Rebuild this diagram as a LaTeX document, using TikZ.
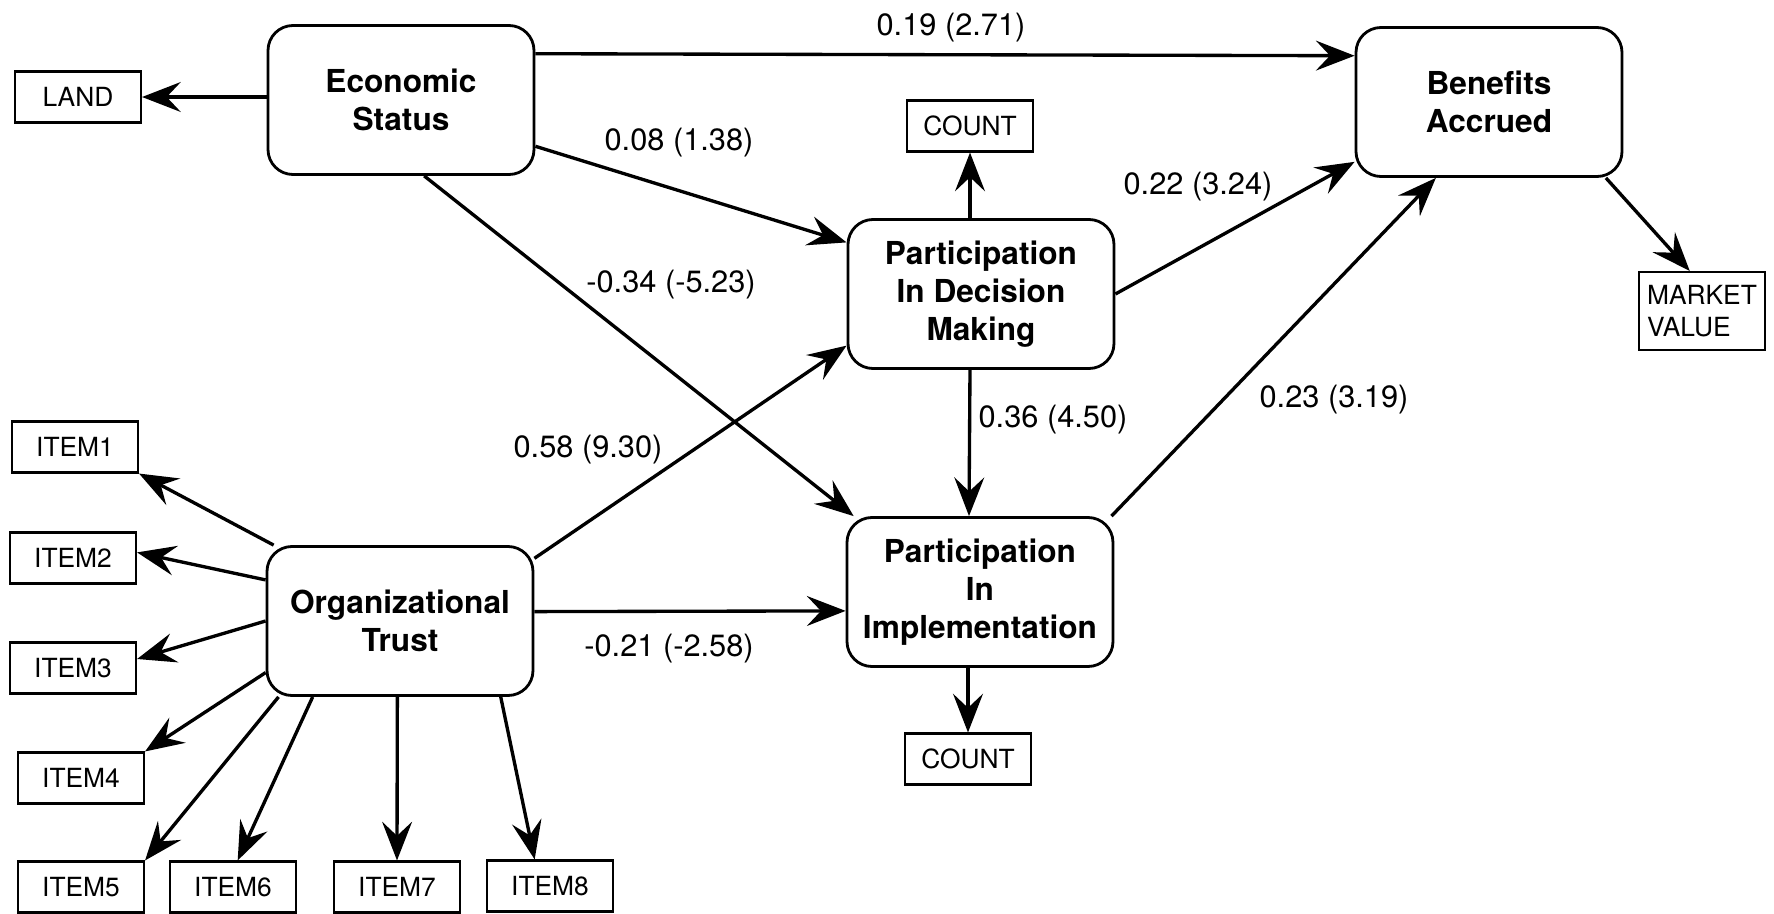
\documentclass[tikz,border=0pt]{standalone}
\usepackage{fontspec}
\setmainfont{TeX Gyre Heros}
\usetikzlibrary{shapes,arrows.meta,positioning}

\tikzset{
    latent/.style={draw, line width=1.6pt, rounded corners=5mm, minimum width=5.32cm,
        minimum height=2.98cm, align=center, font=\fontsize{18}{21.5}\selectfont\bfseries},
    ind/.style={draw, line width=1.2pt, minimum width=2.52cm, minimum height=1.02cm,
        inner sep=1pt, font=\fontsize{15}{18}\selectfont},
    coef/.style={inner sep=0pt, font=\fontsize{17.5}{20}\selectfont},
    arr/.style={-{Stealth[length=22pt,width=17pt,inset=8pt]}, line width=1.9pt},
}

\begin{document}
\begin{tikzpicture}[x=0.2mm, y=-0.2mm]
    \useasboundingbox (0,0) rectangle (1774,913);

    % Latent variables
    \node[latent] (econ) at (401,100) {Economic\\Status};
    \node[latent] (benefit) at (1489,102) {Benefits\\Accrued};
    \node[latent] (pdm) at (981,294) {Participation\\In Decision\\Making};
    \node[latent] (pimpl) at (980,592) {Participation\\In\\Implementation};
    \node[latent] (trust) at (400,621) {Organizational\\Trust};

    % Indicators
    \node[ind] (land) at (78,97) {LAND};
    \node[ind] (cnt1) at (970,126) {COUNT};
    \node[ind] (cnt2) at (968,759) {COUNT};
    \node[ind, minimum height=1.56cm, align=left, font=\fontsize{15}{18}\selectfont] (market) at (1702,311) {MARKET\\VALUE};
    \foreach \n/\x/\y in {1/75/447, 2/73/558, 3/73/668, 4/81/778,
                          5/81/887, 6/233/887, 7/397/887, 8/550/886} {
        \node[ind] (item\n) at (\x,\y) {ITEM\n};
    }

    % Measurement paths
    \draw[arr] (econ.west |- land.east) -- (land.east);
    \draw[arr] (pdm.north -| cnt1.south) -- (cnt1.south);
    \draw[arr] (pimpl.south -| cnt2.north) -- (cnt2.north);
    \draw[arr] (benefit.327) -- (market.107);
    \foreach \n/\s/\e in {1/149/south east, 2/163/5, 3/180/8, 4/201/north east,
                          5/212/north east, 6/221/80, 7/268/90, 8/323/120} {
        \draw[arr] (trust.\s) -- (item\n.\e);
    }

    % Structural paths
    \draw[arr] (econ.19) -- (benefit.161);
    \draw[arr] (econ.341) -- (pdm.159);
    \draw[arr] (econ.287) -- (pimpl.149);
    \draw[arr] (trust.25) -- (pdm.201);
    \draw[arr] (trust.4) -- (pimpl.188);
    \draw[arr] ([xshift=-2.2mm]pdm.south) -- ([xshift=-2.2mm]pimpl.north);
    \draw[arr] (pdm.east) -- (benefit.204);
    \draw[arr] (pimpl.30) -- (benefit.235);

    % Path coefficients
    \node[coef] (c019) at (951,28) {0.19 (2.71)};
    \node[coef] (c008) at (679,143) {0.08 (1.38)};
    \node[coef] (c034) at (671,285) {-0.34 (-5.23)};
    \node[coef] (c022) at (1198,187) {0.22 (3.24)};
    \node[coef] (c058) at (588,450) {0.58 (9.30)};
    \node[coef] (c036) at (1053,420) {0.36 (4.50)};
    \node[coef] (c023) at (1334,400) {0.23 (3.19)};
    \node[coef] (c021) at (669,649) {-0.21 (-2.58)};
\end{tikzpicture}
\end{document}
